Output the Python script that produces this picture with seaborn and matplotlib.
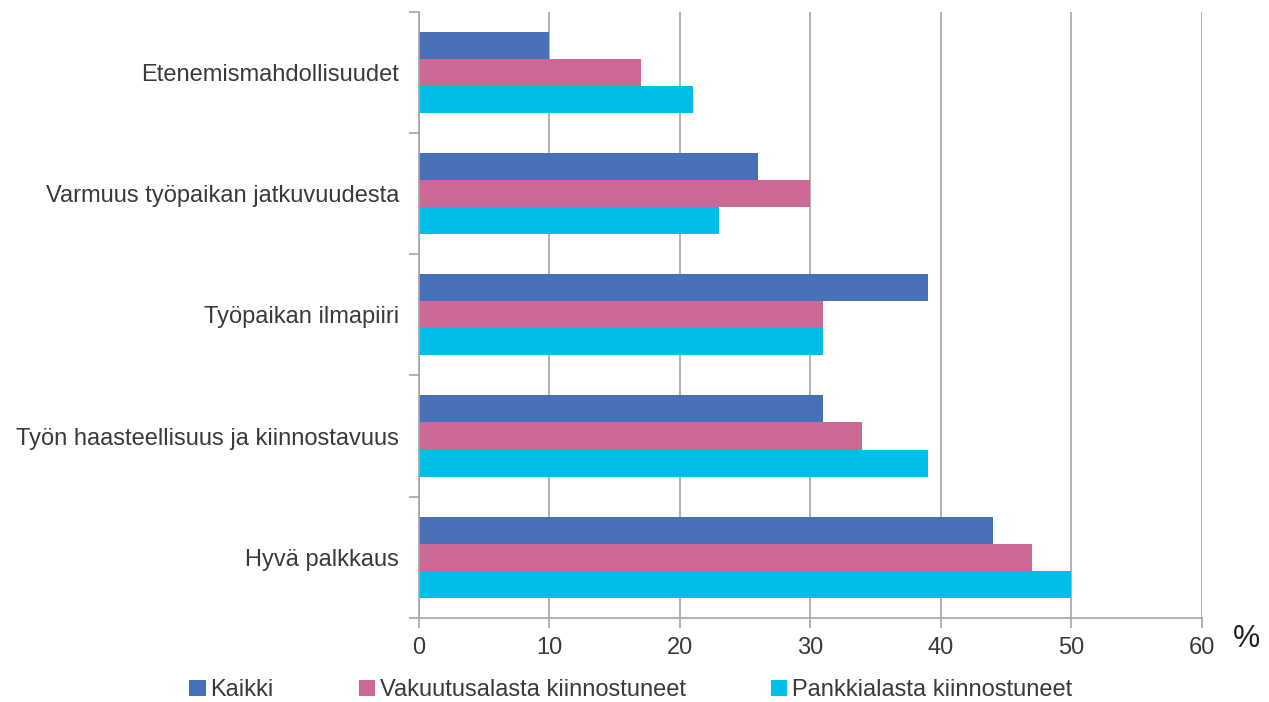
import matplotlib
matplotlib.use("Agg")
import matplotlib.pyplot as plt
import seaborn as sns
import pandas as pd

categories = ["Etenemismahdollisuudet", "Varmuus työpaikan jatkuvuudesta",
              "Työpaikan ilmapiiri", "Työn haasteellisuus ja kiinnostavuus",
              "Hyvä palkkaus"]
series = ["Kaikki", "Vakuutusalasta kiinnostuneet", "Pankkialasta kiinnostuneet"]
kaikki = [10, 26, 39, 31, 44]
vakuutus = [17, 30, 31, 34, 47]
pankki = [21, 23, 31, 39, 50]
colors = ["#4870B8", "#CC6895", "#00BEE8"]

df = pd.DataFrame({
    "Tekijä": categories * 3,
    "Ryhmä": [series[0]] * 5 + [series[1]] * 5 + [series[2]] * 5,
    "Arvo": kaikki + vakuutus + pankki,
})

sns.set_style("white")
plt.rcParams["font.family"] = ["Liberation Sans", "DejaVu Sans"]
text_col = "#3a3a3a"
grid_col = "#a6a6a6"

fig = plt.figure(figsize=(12.69, 7.02), dpi=100)
ax = fig.add_axes([0.330, 0.120, 0.617, 0.863])

sns.barplot(data=df, y="Tekijä", x="Arvo", hue="Ryhmä", order=categories,
            hue_order=series, palette=colors, saturation=1, width=0.67,
            orient="h", linewidth=0, ax=ax, legend=True)

ax.set_xlim(0, 60)
ax.set_ylim(len(categories) - 0.5, -0.5)
ax.set_xticks(range(0, 61, 10))
ax.set_xlabel("")
ax.set_ylabel("")
ax.xaxis.grid(True, color=grid_col, linewidth=1.2)
ax.set_axisbelow(True)
for s in ["top", "right"]:
    ax.spines[s].set_visible(False)
for s in ["left", "bottom"]:
    ax.spines[s].set_color(grid_col)
    ax.spines[s].set_linewidth(1.2)

ax.tick_params(axis="x", length=7, width=1.2, color=grid_col, labelsize=17,
               labelcolor=text_col, pad=7, bottom=True)
ax.tick_params(axis="y", which="major", length=0, labelsize=17,
               labelcolor=text_col, pad=14)
# tick marks between the categories, incl. top and bottom edges
ax.set_yticks([i - 0.5 for i in range(0, len(categories) + 1)], minor=True)
ax.tick_params(axis="y", which="minor", length=7, width=1.2, color=grid_col, left=True)

ax.text(1.04, -0.035, "%", transform=ax.transAxes, fontsize=22,
        color="#222222", ha="left", va="center")

handles, labels = ax.get_legend_handles_labels()
ax.get_legend().remove()
fig.legend(handles, labels, loc="center", bbox_to_anchor=(0.497, 0.017),
           ncol=3, frameon=False, fontsize=17, handlelength=0.7,
           handleheight=0.7, handletextpad=0.2, columnspacing=3.6,
           labelcolor=text_col)

fig.savefig("out.png", dpi=100)
